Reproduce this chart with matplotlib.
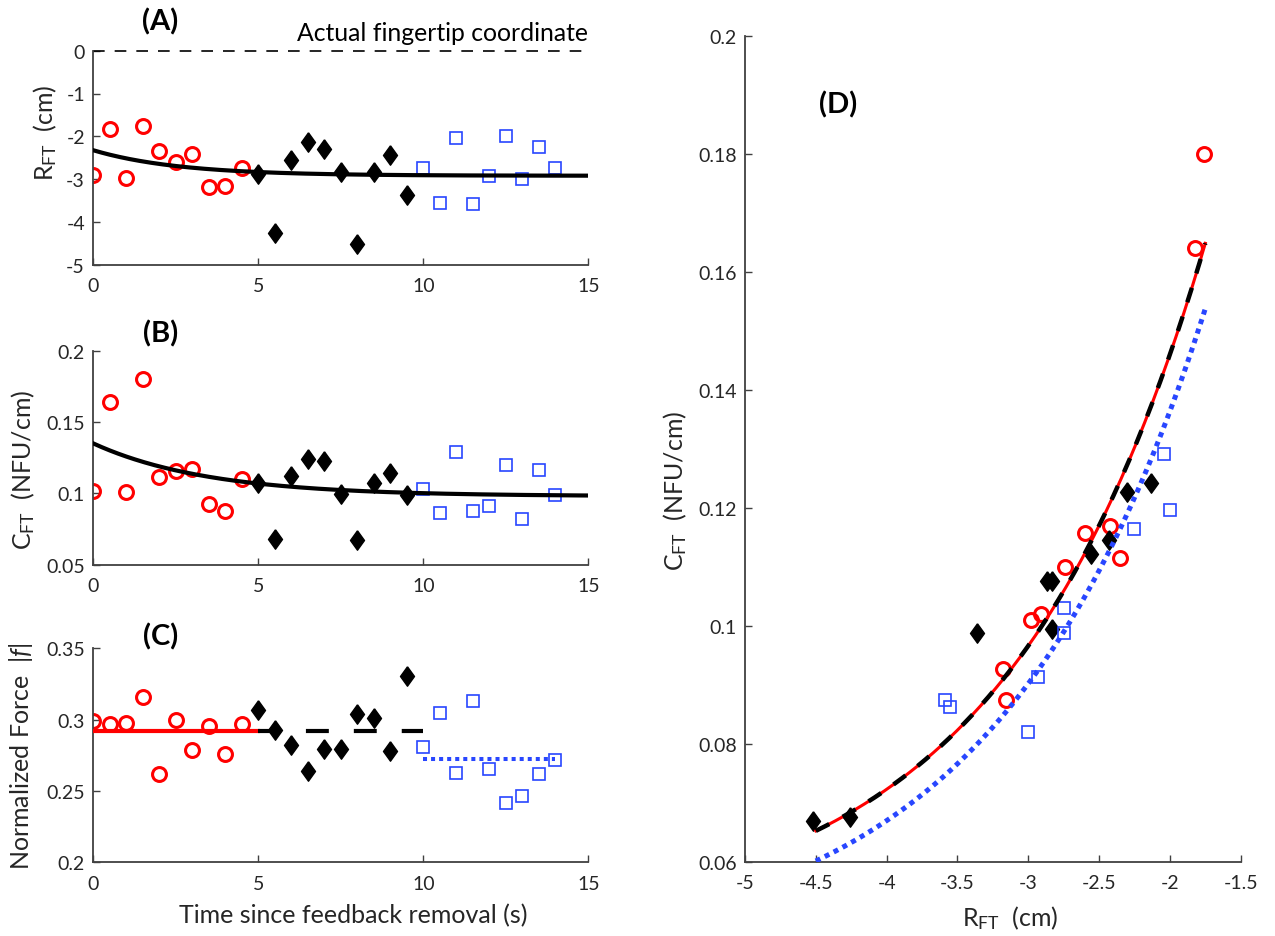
import numpy as np
import matplotlib.pyplot as plt
from matplotlib.ticker import FixedLocator, FuncFormatter

plt.rcParams['font.family'] = ['Lato', 'DejaVu Sans']
plt.rcParams['mathtext.fontset'] = 'custom'
plt.rcParams['mathtext.rm'] = 'Lato'
plt.rcParams['mathtext.it'] = 'Lato:italic'
plt.rcParams['mathtext.bf'] = 'Lato:bold'

# time of each trial (s) for the three feedback phases
t_red = [0, 0.5, 1, 1.5, 2, 2.5, 3, 3.5, 4, 4.5]
t_black = [5, 5.5, 6, 6.5, 7, 7.5, 8, 8.5, 9, 9.5]
t_blue = [10, 10.5, 11, 11.5, 12, 12.5, 13, 13.5, 14]

# fingertip coordinate R_FT (cm)
r_red = [-2.91, -1.82, -2.98, -1.76, -2.35, -2.60, -2.42, -3.18, -3.16, -2.74]
r_black = [-2.87, -4.26, -2.56, -2.13, -2.30, -2.83, -4.52, -2.83, -2.43, -3.36]
r_blue = [-2.75, -3.55, -2.04, -3.59, -2.93, -2.00, -3.00, -2.25, -2.75]

# coefficient C_FT (NFU/cm)
c_red = [0.102, 0.164, 0.101, 0.180, 0.1115, 0.1157, 0.1169, 0.0927, 0.0874, 0.110]
c_black = [0.1076, 0.0677, 0.1122, 0.1243, 0.1227, 0.0995, 0.0670, 0.1076, 0.1146, 0.0988]
c_blue = [0.103, 0.0862, 0.1292, 0.0874, 0.0913, 0.1197, 0.082, 0.1164, 0.0988]

# normalized force |f|
f_red = [0.299, 0.2967, 0.2977, 0.3157, 0.2619, 0.300, 0.279, 0.2958, 0.2759, 0.2967]
f_black = [0.307, 0.293, 0.2822, 0.2643, 0.2794, 0.2794, 0.304, 0.301, 0.2783, 0.3304]
f_blue = [0.2806, 0.3047, 0.2626, 0.3133, 0.2654, 0.2416, 0.2467, 0.2617, 0.272]

# exponential fits over time: (asymptote, amplitude, tau)
r_fit = (-2.922, 0.596, 2.6)
c_fit = (0.098, 0.037, 3.5)

# C_FT vs R_FT fits: offset + a * exp(b * R)
cr_fit_all = (0.0487, 0.401, 0.708)
cr_fit_blue = (0.0435, 0.367, 0.687)
cr_range = (-4.5, -1.75)

RED = '#ff0000'
BLUE = '#2846ff'
AXC = '#404040'
TXT = '#262626'

TICK_FS = 14
LABEL_FS = 18
PANEL_FS = 21

W, H = 1275, 937
fig = plt.figure(figsize=(W / 100, H / 100), dpi=100)


def px_axes(left, top, right, bottom):
    return fig.add_axes([left / W, 1 - bottom / H, (right - left) / W, (bottom - top) / H])


def style(ax, xticks, yticks):
    for s in ['top', 'right']:
        ax.spines[s].set_visible(False)
    for s in ['left', 'bottom']:
        ax.spines[s].set_color(AXC)
        ax.spines[s].set_linewidth(1.3)
    ax.xaxis.set_major_locator(FixedLocator(xticks))
    ax.yaxis.set_major_locator(FixedLocator(yticks))
    fmt = FuncFormatter(lambda v, p: '%g' % round(v, 4))
    ax.xaxis.set_major_formatter(fmt)
    ax.yaxis.set_major_formatter(fmt)
    ax.tick_params(direction='in', length=5, width=1, colors=AXC,
                   labelcolor=TXT, labelsize=TICK_FS)
    ax.tick_params(axis='x', pad=9)
    ax.tick_params(axis='y', pad=6)


def ylab(ax, text, x, y):
    ax.set_ylabel(text, fontsize=LABEL_FS, color=TXT)
    ax.yaxis.label.set_va('center')
    ax.yaxis.set_label_coords(x, y)


def xlab(ax, text, x, y):
    ax.set_xlabel(text, fontsize=LABEL_FS, color=TXT)
    ax.xaxis.label.set_va('center')
    ax.xaxis.set_label_coords(x, y)


def panel(ax, text, x, y):
    ax.text(x, y, text, transform=ax.transAxes, ha='center', va='center',
            fontsize=PANEL_FS, fontweight='bold')


# diamond a bit wider than matplotlib's thin diamond
diamond = [(0, 1), (0.72, 0), (0, -1), (-0.72, 0), (0, 1)]

mk_red = dict(ls='none', marker='o', ms=10, mew=2.2, mfc='none', mec=RED)
mk_black = dict(ls='none', marker=diamond, ms=14, mew=1, mfc='black', mec='black')
mk_blue = dict(ls='none', marker='s', ms=9, mew=1.2, mfc='none', mec=BLUE)


def scatter3(ax, xs, ys):
    ax.plot(xs[0], ys[0], **mk_red)
    ax.plot(xs[1], ys[1], **mk_black)
    ax.plot(xs[2], ys[2], **mk_blue)


t_all = [t_red, t_black, t_blue]
t_line = np.linspace(0, 15, 300)

# (A) fingertip coordinate over time
axA = px_axes(93.3, 51.7, 588.3, 265.7)
scatter3(axA, t_all, [r_red, r_black, r_blue])
axA.plot(t_line, r_fit[0] + r_fit[1] * np.exp(-t_line / r_fit[2]), color='black', lw=3, zorder=3)
axA.plot([0, 15], [0, 0], color='black', lw=1.2, ls=(0, (7, 6)), clip_on=False)
axA.set_xlim(0, 15)
axA.set_ylim(-5, 0)
style(axA, [0, 5, 10, 15], [-5, -4, -3, -2, -1, 0])
ylab(axA, r'R$_\mathregular{FT}$  (cm)', -0.098, 0.62)
panel(axA, '(A)', 0.135, 1.14)
axA.text(1.0, 1.086, 'Actual fingertip coordinate', transform=axA.transAxes,
         ha='right', va='center', fontsize=17.8, color='black')

# (B) coefficient over time
axB = px_axes(93.3, 351.7, 588.3, 565.7)
scatter3(axB, t_all, [c_red, c_black, c_blue])
axB.plot(t_line, c_fit[0] + c_fit[1] * np.exp(-t_line / c_fit[2]), color='black', lw=3, zorder=3)
axB.set_xlim(0, 15)
axB.set_ylim(0.05, 0.2)
style(axB, [0, 5, 10, 15], [0.05, 0.1, 0.15, 0.2])
ylab(axB, r'C$_\mathregular{FT}$  (NFU/cm)', -0.142, 0.45)
panel(axB, '(B)', 0.135, 1.083)

# (C) normalized force with phase means
axC = px_axes(93.3, 649.3, 588.3, 863.3)
scatter3(axC, t_all, [f_red, f_black, f_blue])
axC.plot([0, 5], [np.mean(f_red)] * 2, color=RED, lw=3, zorder=3)
axC.plot([5, 10], [np.mean(f_black)] * 2, color='black', lw=3, ls=(0, (5.5, 6)), zorder=3)
axC.plot([10, 14], [np.mean(f_blue)] * 2, color=BLUE, lw=2.9, ls=(0, (1, 1)), zorder=3)
axC.set_xlim(0, 15)
axC.set_ylim(0.2, 0.35)
style(axC, [0, 5, 10, 15], [0.2, 0.25, 0.3, 0.35])
ylab(axC, r'Normalized Force  |$\mathit{f}$|', -0.146, 0.5)
xlab(axC, 'Time since feedback removal (s)', 0.525, -0.246)
panel(axC, '(C)', 0.135, 1.056)

# (D) coefficient against fingertip coordinate
axD = px_axes(745, 37, 1240.7, 863)
scatter3(axD, [r_red, r_black, r_blue], [c_red, c_black, c_blue])
rr = np.linspace(cr_range[0], cr_range[1], 200)
c_all = cr_fit_all[0] + cr_fit_all[1] * np.exp(cr_fit_all[2] * rr)
c_bl = cr_fit_blue[0] + cr_fit_blue[1] * np.exp(cr_fit_blue[2] * rr)
axD.plot(rr, c_all, color=RED, lw=2.2, zorder=3)
axD.plot(rr, c_all, color='black', lw=3.2, ls=(0, (3.4, 3.4)), zorder=4)
axD.plot(rr, c_bl, color=BLUE, lw=3.6, ls=(0, (1, 1)), zorder=4)
axD.set_xlim(-5, -1.5)
axD.set_ylim(0.06, 0.2)
style(axD, np.arange(-5, -1.49, 0.5), [0.06, 0.08, 0.1, 0.12, 0.14, 0.16, 0.18, 0.2])
xlab(axD, r'R$_\mathregular{FT}$  (cm)', 0.534, -0.0666)
ylab(axD, r'C$_\mathregular{FT}$  (NFU/cm)', -0.141, 0.45)
panel(axD, '(D)', 0.188, 0.918)

fig.savefig('out.png', dpi=100)
